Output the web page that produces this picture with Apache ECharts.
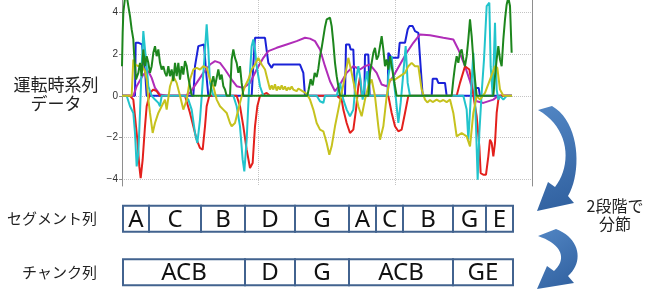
<!DOCTYPE html>
<html>
<head>
<meta charset="utf-8">
<script src="https://cdn.jsdelivr.net/npm/echarts@6/dist/echarts.min.js"></script>
<style>
  html, body { margin: 0; padding: 0; background: #fff; }
  #main { width: 647px; height: 299px; }
</style>
</head>
<body>
<div id="main"></div>
<script>
// y axis ticks of the time-series panel
var yTicks = [-4, -2, 0, 2, 4];

// time-series values, [time, value]
var greenData = [[0,1.42],[2,3.02],[4,3.98],[9,4.7],[14,4.8],[19,4.3],[24,3.82],[29,3.18],[34,2.70],[36,2.06],[42,0.78],[49,1.10],[54,1.58],[59,0.94],[64,2.22],[69,1.42],[74,1.90],[79,1.58],[84,1.10],[89,1.42],[94,2.06],[99,2.38],[104,1.90],[109,2.22],[114,1.58],[119,1.26],[124,1.42],[129,1.10],[134,0.94],[139,1.42],[144,0.94],[149,1.26],[154,0.70],[159,1.58],[164,0.94],[169,1.58],[174,0.78],[179,1.42],[184,1.02],[189,1.66],[194,1.42],[199,0.86],[204,0.46],[209,0],[264,0],[269,0.62],[274,0.94],[279,0.46],[284,0.86],[289,1.26],[294,0.78],[299,1.02],[304,0.46],[309,0.30],[314,0],[324,0],[329,1.74],[334,2.22],[339,1.82],[344,1.58],[349,1.10],[354,1.42],[359,0.62],[364,0],[556,0],[560,0.3],[566,0.8],[572,0.5],[578,1.1],[584,0.9],[589,1.3],[594,1.9],[599,2.3],[604,2.8],[609,3.3],[614,3.66],[619,3.66],[624,3.74],[629,3.34],[634,2.54],[639,1.58],[644,0.94],[649,0.46],[654,0],[739,0],[744,1.10],[749,1.58],[754,2.06],[759,2.30],[764,1.74],[769,1.90],[774,2.38],[779,2.86],[784,2.22],[789,1.42],[794,1.74],[799,1.26],[804,1.90],[809,1.42],[814,0.94],[819,0.46],[824,0],[989,0],[994,0.78],[999,1.42],[1004,1.90],[1009,1.58],[1014,2.06],[1019,2.22],[1024,1.74],[1029,1.42],[1034,1.90],[1039,2.70],[1044,3.66],[1049,2.86],[1054,1.74],[1059,0.78],[1064,0],[1114,0],[1119,0.94],[1124,1.74],[1129,2.38],[1134,1.74],[1139,1.42],[1144,2.70],[1149,3.66],[1154,4.38],[1159,4.7],[1164,4.30],[1169,2.06]];
var blueData = [[0,0],[39,0],[41,2.54],[50,2.54],[60,2.46],[66,2.38],[70,1.0],[74,0],[214,0],[219,1.42],[229,2.38],[234,2.46],[246,2.46],[252,1.2],[259,0],[389,0],[394,1.5],[399,2.78],[429,2.78],[439,1.58],[449,1.34],[454,1.50],[534,1.50],[544,1.10],[549,0],[669,0],[672,2.46],[682,2.46],[686,2.22],[694,2.22],[699,0],[727,0],[729,1.98],[739,1.98],[743,0],[797,0],[799,2.06],[809,1.82],[829,1.82],[833,2.54],[849,2.54],[857,3.18],[862,3.34],[872,3.34],[879,3.10],[889,3.02],[893,2.06],[902,0],[929,0],[932,0.82],[944,0.82],[949,0.62],[969,0.62],[974,0],[1059,0],[1062,0.38],[1070,0.38],[1074,0],[1170,0]];
var magentaData = [[0,0],[34,0],[44,0.46],[64,1.02],[79,1.18],[89,0.86],[99,0.38],[114,0.06],[134,0],[189,0],[204,0.14],[224,0.62],[244,1.10],[264,1.50],[279,1.66],[294,1.58],[309,1.26],[329,0.78],[344,0.46],[364,0.38],[384,0.62],[404,1.26],[424,1.82],[439,2.14],[464,2.30],[494,2.46],[524,2.62],[549,2.78],[564,2.74],[579,2.62],[594,2.22],[609,1.42],[624,0.70],[639,0.22],[654,0.54],[674,1.10],[694,1.42],[714,1.26],[729,1.42],[744,1.50],[764,1.10],[779,0.54],[794,0.46],[814,0.94],[834,1.50],[854,2.06],[874,2.54],[894,2.94],[924,2.90],[964,2.78],[994,2.70],[1009,2.22],[1029,1.42],[1044,0.70],[1054,0.14],[1064,-0.26],[1084,-0.34],[1114,-0.18],[1129,0],[1170,0]];
var yellowData = [[0,0],[29,0],[34,1.74],[39,1.50],[49,1.42],[59,1.50],[69,1.18],[74,0.78],[79,-0.18],[84,-0.82],[92,-1.78],[99,-1.30],[109,-0.82],[119,-0.50],[129,-0.18],[134,-0.66],[144,0.46],[154,0.94],[164,0.62],[174,0],[184,-0.66],[194,-0.20],[204,0.78],[214,1.26],[224,1.34],[234,1.26],[244,1.42],[254,1.34],[264,0.78],[274,0.46],[284,-0.18],[294,-0.50],[304,-0.66],[314,-0.82],[324,-1.30],[329,-1.46],[339,-1.30],[349,-0.66],[359,-0.02],[369,0.46],[379,0.78],[389,1.26],[399,1.50],[409,1.82],[419,1.50],[429,1.26],[434,0.94],[444,0.30],[449,0.5],[454,0.3],[459,0.55],[464,0.25],[469,0.45],[474,0.3],[479,0.5],[484,0.3],[489,0.45],[494,0.25],[499,0.4],[504,0.3],[509,0.45],[514,0.3],[519,0.38],[524,0.22],[529,0.35],[534,0.3],[539,0.25],[554,0.10],[564,-0.18],[574,-0.66],[584,-1.30],[594,-1.62],[604,-1.70],[614,-2.26],[622,-2.82],[629,-2.42],[639,-1.46],[649,-0.66],[659,0.14],[669,0.94],[679,1.82],[689,1.10],[699,0.30],[709,-0.50],[719,-0.98],[729,-0.18],[739,0.46],[749,0.78],[759,-0.02],[769,-1.46],[774,-2.10],[784,-1.46],[794,-0.02],[804,0.78],[819,0.78],[834,0.94],[849,1.10],[859,1.42],[869,1.58],[879,1.42],[889,1.42],[899,0.30],[909,-0.18],[916,-0.32],[924,-0.2],[932,-0.3],[944,-0.18],[954,-0.28],[964,-0.2],[974,-0.3],[984,-0.18],[994,-0.82],[1004,-1.94],[1019,-1.78],[1034,-1.94],[1044,-2.42],[1054,-0.82],[1064,0],[1074,-0.18],[1089,0.14],[1104,0.78],[1119,1.42],[1126,1.34],[1134,0.30],[1144,0],[1170,0]];
var cyanData = [[0,0],[14,0],[24,-0.50],[34,-0.82],[39,-1.78],[44,-3.38],[49,-2.74],[54,-0.82],[59,1.42],[64,3.10],[69,2.22],[74,1.42],[79,0.46],[89,0],[99,-0.18],[109,-0.34],[114,-0.50],[119,0],[189,0],[199,-0.18],[209,-0.66],[219,-1.78],[226,-2.26],[234,-1.14],[242,0.62],[249,2.22],[254,3.42],[259,2.22],[264,0.62],[274,0],[334,0],[344,-0.50],[354,-1.46],[362,-3.06],[367,-3.62],[374,-2.10],[382,0.62],[389,2.38],[394,2.70],[399,2.22],[404,1.42],[414,0.46],[424,0],[584,0],[594,-0.26],[604,-0.34],[609,0],[644,0],[654,0.62],[664,-0.18],[674,-0.66],[684,-0.98],[694,-0.66],[702,0.78],[709,1.42],[714,0.94],[722,-0.18],[729,0.62],[736,1.18],[742,0],[797,0],[799,0.94],[809,1.90],[816,0.62],[822,-0.18],[829,-1.30],[836,-0.34],[844,1.10],[851,2.38],[857,0.62],[864,0],[1024,0],[1034,-0.66],[1039,-2.10],[1046,-0.18],[1054,2.06],[1062,-1.46],[1067,-4.02],[1072,-1.78],[1079,0.14],[1086,1.74],[1094,4.30],[1102,4.46],[1106,1.42],[1112,0],[1116,2.0],[1119,3.5],[1124,0.3],[1129,-0.18],[1134,0],[1144,-0.18],[1154,0],[1170,0]];
var redData = [[0,0],[24,0],[34,-0.18],[42,-1.46],[46,-2.10],[52,-3.38],[56,-3.94],[62,-3.06],[69,-1.46],[74,-0.50],[84,0.14],[94,0.30],[104,0.22],[114,0],[189,0],[204,-0.82],[214,-1.46],[224,-2.10],[234,-2.50],[242,-2.58],[249,-1.46],[254,-0.50],[262,0],[344,0],[354,-0.50],[364,-1.46],[374,-2.58],[384,-3.46],[392,-3.22],[399,-1.46],[406,-0.50],[414,0],[424,0.06],[434,0.14],[444,0],[644,0],[659,-0.18],[664,-0.66],[674,-1.30],[684,-1.78],[694,-1.62],[702,-0.66],[709,0.46],[714,0.90],[719,0],[799,0],[809,-0.82],[819,-1.46],[829,-1.70],[839,-1.62],[849,-0.82],[859,0],[1004,0],[1014,0.62],[1029,1.42],[1042,1.26],[1049,0.62],[1056,-0.18],[1064,-0.98],[1072,-2.42],[1076,-3.70],[1084,-3.78],[1092,-3.78],[1099,-2.90],[1104,-2.10],[1109,-2.26],[1114,-2.90],[1119,-2.26],[1124,-0.82],[1129,-0.18],[1134,0],[1170,0]];

// segment / chunk rows (same time scale)
var rowNames = ['セグメント列', 'チャンク列'];
var segLabels = ['A', 'C', 'B', 'D', 'G', 'A', 'C', 'B', 'G', 'E'];
var segBounds = [3, 81, 237, 369, 519, 681, 762, 843, 993, 1092, 1173];
var chunkLabels = ['ACB', 'D', 'G', 'ACB', 'GE'];
var chunkBounds = [3, 369, 519, 681, 993, 1173];

var boxData = [];
for (var i = 0; i < segLabels.length; i++) {
	boxData.push([segBounds[i], segBounds[i + 1], 0, segLabels[i]]);
}
for (var i = 0; i < chunkLabels.length; i++) {
	boxData.push([chunkBounds[i], chunkBounds[i + 1], 1, chunkLabels[i]]);
}

function renderBox(params, api) {
	var p0 = api.coord([api.value(0), api.value(2)]);
	var p1 = api.coord([api.value(1), api.value(2)]);
	var h = 26;
	return {
		type: 'group',
		children: [{
			type: 'rect',
			shape: { x: p0[0], y: p0[1] - h / 2, width: p1[0] - p0[0], height: h },
			style: { fill: '#fff', stroke: '#42638f', lineWidth: 2 }
		}, {
			type: 'text',
			style: {
				text: api.value(3),
				x: (p0[0] + p1[0]) / 2,
				y: p0[1] + 1,
				align: 'center',
				verticalAlign: 'middle',
				font: '24px "Noto Sans"',
				fill: '#111'
			}
		}]
	};
}

function lineSeries(name, data, color) {
	return {
		name: name,
		type: 'line',
		xAxisIndex: 0,
		yAxisIndex: 0,
		data: data,
		symbol: 'none',
		lineStyle: { color: color, width: 2 },
		silent: true,
		animation: false
	};
}

// curved arrow outline: outer curve, head, inner curve back
function bezier(p0, p1, p2, p3, n) {
	var pts = [];
	for (var k = 0; k <= n; k++) {
		var t = k / n, u = 1 - t;
		pts.push([
			u * u * u * p0[0] + 3 * u * u * t * p1[0] + 3 * u * t * t * p2[0] + t * t * t * p3[0],
			u * u * u * p0[1] + 3 * u * u * t * p1[1] + 3 * u * t * t * p2[1] + t * t * t * p3[1]
		]);
	}
	return pts;
}
function arrowPoints(a) {
	var pts = [a.start];
	pts = pts.concat(bezier(a.outer[0], a.outer[1], a.outer[2], a.outer[3], 20));
	pts = pts.concat(a.head);
	pts = pts.concat(bezier(a.inner[0], a.inner[1], a.inner[2], a.inner[3], 20));
	return pts;
}
var arrow1 = {
	start: [538, 110],
	outer: [[552, 106], [580, 122], [582, 172], [568, 196]],
	head: [[574, 203], [537, 211], [548, 182]],
	inner: [[555, 187], [572, 165], [570, 128], [538, 110]]
};
var arrow2 = {
	start: [538, 236],
	outer: [[556, 229], [580, 238], [584, 262], [568, 276]],
	head: [[574, 283], [537, 289], [547, 266]],
	inner: [[554, 271], [566, 260], [564, 245], [538, 236]]
};

var arrowColor = new echarts.graphic.LinearGradient(0, 0, 1, 1, [
	{ offset: 0, color: '#5286c4' },
	{ offset: 1, color: '#2f5f9e' }
]);

var ech = echarts.init(document.getElementById('main'));
var option = {
	backgroundColor: '#fff',
	animation: false,
	grid: [{
		left: 122,
		top: 0,
		width: 410,
		height: 186
	}, {
		left: 122,
		top: 192,
		width: 410,
		height: 121
	}],
	xAxis: [{
		type: 'value',
		gridIndex: 0,
		min: 0,
		max: 1230,
		interval: 410,
		axisLine: { show: false },
		axisTick: { show: false },
		axisLabel: { show: false },
		splitLine: { show: true, lineStyle: { type: 'dotted', color: '#c4c4c4', width: 1 } }
	}, {
		type: 'value',
		gridIndex: 1,
		min: 0,
		max: 1230,
		show: false
	}],
	yAxis: [{
		type: 'value',
		gridIndex: 0,
		min: -4.32,
		max: 4.59,
		axisLine: { show: true, lineStyle: { color: '#8e8e8e' } },
		axisTick: { show: true, length: 3, customValues: yTicks, lineStyle: { color: '#8e8e8e' } },
		axisLabel: {
			customValues: yTicks,
			fontSize: 10,
			fontFamily: 'Liberation Sans',
			color: '#333',
			margin: 4,
			formatter: function (v) { return v < 0 ? '\u2212' + (-v) : String(v); }
		},
		splitLine: { show: true, lineStyle: { type: 'dotted', color: '#c4c4c4', width: 1 } }
	}, {
		type: 'value',
		gridIndex: 0,
		position: 'right',
		min: -4.32,
		max: 4.59,
		axisLine: { show: true, lineStyle: { color: '#8e8e8e' } },
		axisTick: { show: false },
		axisLabel: { show: false },
		splitLine: { show: false }
	}, {
		type: 'category',
		gridIndex: 1,
		data: rowNames,
		inverse: true,
		axisLine: { show: false },
		axisTick: { show: false },
		axisLabel: {
			margin: 25,
			fontSize: 15,
			fontFamily: 'Noto Sans CJK JP',
			color: '#222'
		},
		splitLine: { show: false }
	}],
	series: [
		lineSeries('blue', blueData, '#1a22d8'),
		lineSeries('magenta', magentaData, '#b02cb8'),
		lineSeries('red', redData, '#e3201c'),
		lineSeries('cyan', cyanData, '#22c4cc'),
		lineSeries('yellow', yellowData, '#c6c21e'),
		lineSeries('green', greenData, '#1d861d'),
		{
			type: 'custom',
			xAxisIndex: 1,
			yAxisIndex: 2,
			data: boxData,
			encode: { x: [0, 1], y: 2 },
			renderItem: renderBox,
			clip: false,
			silent: true
		}
	],
	graphic: [{
		type: 'text',
		x: 56,
		y: 94,
		style: {
			text: '運転時系列\nデータ',
			font: '17px "Noto Sans CJK JP"',
			fill: '#222',
			align: 'center',
			verticalAlign: 'middle',
			lineHeight: 19
		}
	}, {
		type: 'text',
		x: 615,
		y: 215,
		style: {
			text: '2段階で\n分節',
			font: '16px "Noto Sans CJK JP"',
			fill: '#222',
			align: 'center',
			verticalAlign: 'middle',
			lineHeight: 18
		}
	}, {
		type: 'polygon',
		shape: { points: arrowPoints(arrow1) },
		style: { fill: arrowColor }
	}, {
		type: 'polygon',
		shape: { points: arrowPoints(arrow2) },
		style: { fill: arrowColor }
	}]
};
ech.setOption(option);
</script>
</body>
</html>
